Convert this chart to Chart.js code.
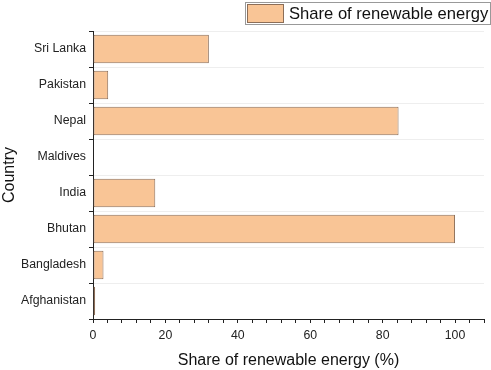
<!DOCTYPE html>
<html>
<head>
<meta charset="utf-8">
<script src="https://cdn.jsdelivr.net/npm/chart.js@4"></script>
<style>
  html, body { margin: 0; padding: 0; background: #fff; }
  #wrap { width: 491px; height: 370px; }
</style>
</head>
<body>
<div id="wrap"><canvas id="chart" width="491" height="370"></canvas></div>
<script>
// values
const countries = ["Afghanistan", "Bangladesh", "Bhutan", "India", "Maldives", "Nepal", "Pakistan", "Sri Lanka"];
const renewableShare = [0.6, 2.9, 100, 17.2, 0, 84.4, 4.2, 32];
const seriesName = "Share of renewable energy";
const xTitle = "Share of renewable energy (%)";
const yTitle = "Country";

const FONT = "'Liberation Sans', Arial, sans-serif";

// boxed legend in the top right corner, drawn by hand
const boxedLegend = {
    id: 'boxedLegend',
    afterDraw(chart) {
        const ctx = chart.ctx;
        ctx.save();
        ctx.fillStyle = '#fff';
        ctx.strokeStyle = '#999';
        ctx.lineWidth = 1;
        ctx.fillRect(245.5, 2.5, 245, 22);
        ctx.strokeRect(245.5, 2.5, 245, 22);
        ctx.fillStyle = '#f9c596';
        ctx.strokeStyle = '#8c6e58';
        ctx.fillRect(247.5, 4.5, 36, 18);
        ctx.strokeRect(247.5, 4.5, 36, 18);
        ctx.fillStyle = '#111';
        ctx.font = '16.6px ' + FONT;
        ctx.textBaseline = 'middle';
        ctx.fillText(chart.data.datasets[0].label, 289, 14);
        ctx.restore();
    }
};

const ctx = document.getElementById('chart').getContext('2d');
new Chart(ctx, {
    type: 'bar',
    data: {
        labels: countries,
        datasets: [{
            label: seriesName,
            data: renewableShare,
            backgroundColor: '#f9c596',
            borderColor: '#8c6e58',
            borderWidth: 1,
            borderSkipped: false,
            barPercentage: 0.79,
            categoryPercentage: 1
        }]
    },
    options: {
        indexAxis: 'y',
        responsive: false,
        animation: false,
        layout: { padding: { top: 31, right: 7, left: 0, bottom: 0 } },
        plugins: {
            legend: { display: false },
            tooltip: { enabled: false }
        },
        scales: {
            x: {
                min: 0,
                max: 108,
                border: { color: '#222', width: 1 },
                grid: { display: true, drawOnChartArea: false, tickLength: 4, color: '#222' },
                ticks: {
                    stepSize: 4,
                    autoSkip: false,
                    maxRotation: 0,
                    padding: 5,
                    color: '#222',
                    font: { family: FONT, size: 12.3 },
                    callback: v => (v % 20 === 0 ? v : '')
                },
                title: {
                    display: true,
                    text: xTitle,
                    color: '#111',
                    font: { family: FONT, size: 16 },
                    padding: { top: 2, bottom: 0 }
                },
                afterFit: s => { s.height = 51; }
            },
            y: {
                reverse: true,
                border: { color: '#222', width: 1 },
                grid: {
                    offset: true,
                    tickLength: 4,
                    color: '#eeeeee',
                    tickColor: '#222'
                },
                ticks: {
                    padding: 3,
                    color: '#222',
                    font: { family: FONT, size: 12.3 }
                },
                title: {
                    display: true,
                    text: yTitle,
                    color: '#111',
                    font: { family: FONT, size: 16 },
                    padding: { top: 0, bottom: 4 }
                },
                afterFit: s => { s.width = 93; }
            }
        }
    },
    plugins: [boxedLegend]
});
</script>
</body>
</html>
